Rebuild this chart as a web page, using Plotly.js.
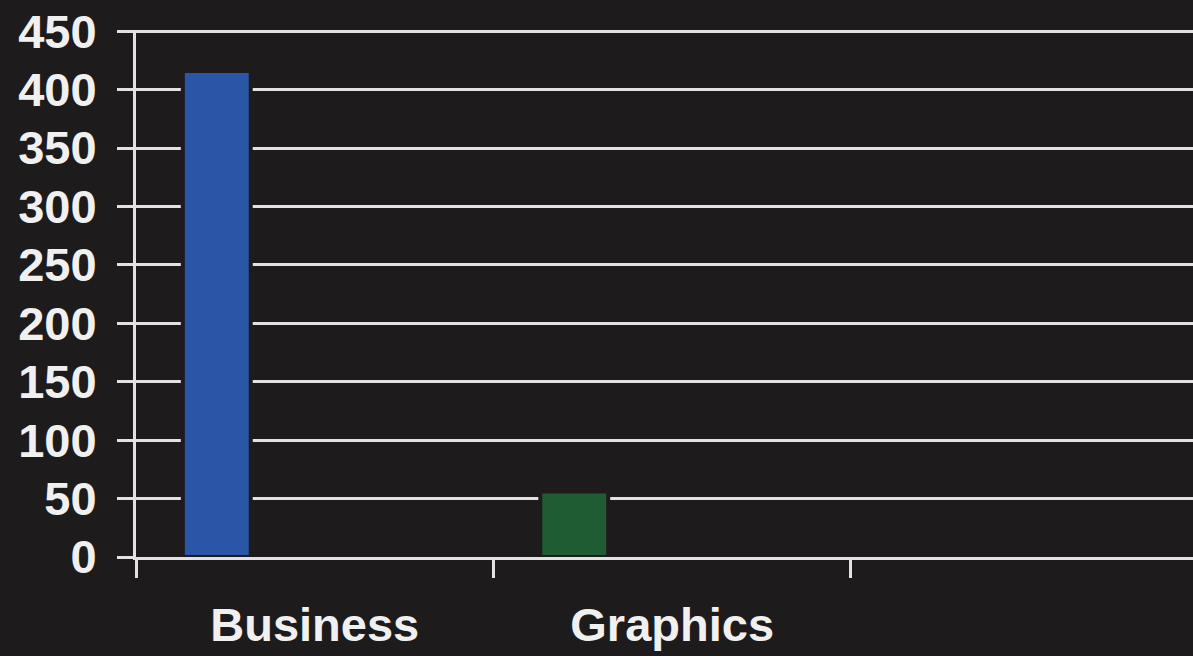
<!DOCTYPE html>
<html>
<head>
<meta charset="utf-8">
<script src="https://cdn.plot.ly/plotly-3.0.1.min.js"></script>
<style>
html,body{margin:0;padding:0;background:#1d1b1b;}
#chart{width:1193px;height:656px;}
</style>
</head>
<body>
<div id="chart"></div>
<script>
const categories = ["Business", "Graphics"];
const values = [416, 56];
const barColors = ["#2b56a8", "#1f5c34"];
const yTicks = [0, 50, 100, 150, 200, 250, 300, 350, 400, 450];

const bg = "#1d1b1b";
const lineCol = "#e2e2e2";
const fontFamily = "Liberation Sans, Arial, Helvetica, sans-serif";

const trace = {
  type: "bar",
  x: categories,
  y: values,
  width: 0.19,
  offset: -0.369,
  marker: { color: barColors, line: { color: bg, width: 4 } },
  hoverinfo: "skip"
};

const layout = {
  width: 1193,
  height: 656,
  paper_bgcolor: bg,
  plot_bgcolor: bg,
  margin: { l: 136, r: 0, t: 30, b: 99, pad: 0 },
  showlegend: false,
  bargap: 0,
  xaxis: {
    type: "category",
    range: [-0.5, 2.457],
    showgrid: false,
    zeroline: false,
    showline: true,
    linecolor: lineCol,
    linewidth: 3,
    ticks: "outside",
    tickson: "boundaries",
    ticklen: 18,
    tickwidth: 3,
    tickcolor: lineCol,
    ticklabelstandoff: 25,
    tickfont: { family: fontFamily, size: 47, color: "#f0f0f0", weight: "bold" },
    fixedrange: true
  },
  yaxis: {
    range: [0, 451],
    tickvals: yTicks,
    showgrid: true,
    gridcolor: lineCol,
    gridwidth: 3,
    zeroline: false,
    showline: true,
    linecolor: lineCol,
    linewidth: 3,
    ticks: "outside",
    ticklen: 16,
    tickwidth: 3,
    tickcolor: lineCol,
    ticklabelstandoff: 11,
    tickfont: { family: fontFamily, size: 47, color: "#f0f0f0", weight: "bold" },
    fixedrange: true
  }
};

Plotly.newPlot("chart", [trace], layout, { displayModeBar: false, staticPlot: true });
</script>
</body>
</html>
